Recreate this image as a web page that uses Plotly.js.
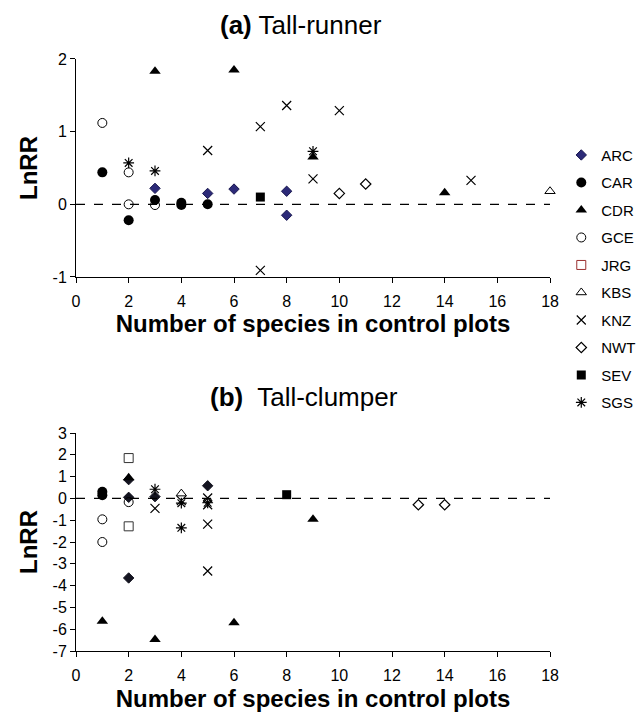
<!DOCTYPE html>
<html>
<head>
<meta charset="utf-8">
<script src="https://cdn.plot.ly/plotly-3.0.1.min.js"></script>
<style>html,body{margin:0;padding:0;background:#fff;}#chart{width:640px;height:715px;}</style>
</head>
<body>
<div id="chart"></div>
<script>
// ---- data ----
var sites = ["ARC","CAR","CDR","GCE","JRG","KBS","KNZ","NWT","SEV","SGS"];
var xTicks = [0,2,4,6,8,10,12,14,16,18];
var yTicksA = [-1,0,1,2];
var yTickTextA = ["-1","0","1","2"];
var yTicksB = [-7,-6,-5,-4,-3,-2,-1,0,1,2,3];
var yTickTextB = ["-7","-6","-5","-4","-3","-2","-1","0","1","2","3"];

// Panel (a) Tall-runner
var ARC_a_x = [3,5,6,8,8];            var ARC_a_y = [0.22,0.15,0.21,0.18,-0.15];
var CAR_a_x = [1,2,3,4,4,5];          var CAR_a_y = [0.44,-0.22,0.06,0.02,-0.01,0];
var CDR_a_x = [3,6,9,14];             var CDR_a_y = [1.83,1.85,0.65,0.16];
var GCE_a_x = [1,2,2,3];              var GCE_a_y = [1.12,0.44,0,-0.01];
var JRG_a_x = [];                     var JRG_a_y = [];
var KBS_a_x = [18];                   var KBS_a_y = [0.18];
var KNZ_a_x = [5,7,7,8,9,10,15];      var KNZ_a_y = [0.74,1.07,-0.91,1.36,0.35,1.29,0.33];
var NWT_a_x = [10,11];                var NWT_a_y = [0.15,0.28];
var SEV_a_x = [7];                    var SEV_a_y = [0.10];
var SGS_a_x = [2,3,9];                var SGS_a_y = [0.57,0.46,0.73];

// Panel (b) Tall-clumper
var ARC_b_x = [2,2,2,3,5];            var ARC_b_y = [0.86,0.05,-3.65,0.08,0.58];
var CAR_b_x = [1,1];                  var CAR_b_y = [0.3,0.15];
var CDR_b_x = [1,2,3,6,9];            var CDR_b_y = [-5.63,0.95,-6.47,-5.7,-0.96];
var GCE_b_x = [1,1,2];                var GCE_b_y = [-0.96,-2.0,-0.17];
var JRG_b_x = [2,2];                  var JRG_b_y = [1.85,-1.28];
var KBS_b_x = [4];                    var KBS_b_y = [0.22];
var KNZ_b_x = [3,4,5,5,5,5];          var KNZ_b_y = [-0.46,-0.1,0.02,-0.29,-1.18,-3.33];
var NWT_b_x = [13,14];                var NWT_b_y = [-0.29,-0.29];
var SEV_b_x = [8];                    var SEV_b_y = [0.17];
var SGS_b_x = [3,4,4,5];              var SGS_b_y = [0.42,-0.22,-1.35,-0.2];

// ---- styles ----
var styles = {
  ARC: {symbol:"diamond", size:8, color:"#2c2a78", line:{color:"#1a1850",width:1}},
  CAR: {symbol:"circle", size:10, color:"#000", line:{color:"#000",width:0}},
  CDR: {symbol:"triangle-up", size:10, color:"#000", line:{color:"#000",width:0}},
  GCE: {symbol:"circle-open", size:9, color:"#000", line:{color:"#000",width:1}},
  JRG: {symbol:"square-open", size:9, color:"#333", line:{color:"#333",width:1}},
  KBS: {symbol:"triangle-up-open", size:9, color:"#000", line:{color:"#000",width:1}},
  KNZ: {symbol:"x-thin-open", size:9, color:"#000", line:{color:"#000",width:1.2}},
  NWT: {symbol:"diamond-open", size:8, color:"#000", line:{color:"#000",width:1.2}},
  SEV: {symbol:"square", size:9, color:"#000", line:{color:"#000",width:0}},
  SGS: {symbol:"asterisk-open", size:9, color:"#000", line:{color:"#000",width:1.2}}
};
var legendColors = {JRG:"#9b3030"};

var dataA = {ARC:[ARC_a_x,ARC_a_y],CAR:[CAR_a_x,CAR_a_y],CDR:[CDR_a_x,CDR_a_y],GCE:[GCE_a_x,GCE_a_y],JRG:[JRG_a_x,JRG_a_y],KBS:[KBS_a_x,KBS_a_y],KNZ:[KNZ_a_x,KNZ_a_y],NWT:[NWT_a_x,NWT_a_y],SEV:[SEV_a_x,SEV_a_y],SGS:[SGS_a_x,SGS_a_y]};
var dataB = {ARC:[ARC_b_x,ARC_b_y],CAR:[CAR_b_x,CAR_b_y],CDR:[CDR_b_x,CDR_b_y],GCE:[GCE_b_x,GCE_b_y],JRG:[JRG_b_x,JRG_b_y],KBS:[KBS_b_x,KBS_b_y],KNZ:[KNZ_b_x,KNZ_b_y],NWT:[NWT_b_x,NWT_b_y],SEV:[SEV_b_x,SEV_b_y],SGS:[SGS_b_x,SGS_b_y]};

function mk(s, override){
  var st = styles[s];
  var c = override || st.color;
  return {symbol:st.symbol, size:st.size, color:c, line:{color: override || st.line.color, width:st.line.width}};
}

var traces = [];
sites.forEach(function(s){
  traces.push({type:"scatter", mode:"markers", x:[null], y:[null], name:s, legendgroup:s,
    marker: mk(s, legendColors[s]), xaxis:"x", yaxis:"y", showlegend:true, hoverinfo:"skip"});
  traces.push({type:"scatter", mode:"markers", x:dataA[s][0], y:dataA[s][1], name:s, legendgroup:s,
    marker: mk(s), xaxis:"x", yaxis:"y", showlegend:false, cliponaxis:false});
  var mb = mk(s, s==="ARC" ? "#141420" : null);
  traces.push({type:"scatter", mode:"markers", x:dataB[s][0], y:dataB[s][1], name:s, legendgroup:s,
    marker: mb, xaxis:"x2", yaxis:"y2", showlegend:false, cliponaxis:false});
});

var FONT = "Liberation Sans, Arial, Helvetica, sans-serif";
function xax(anchor){
  return {domain:[0.11875,0.8594], range:[0,18], anchor:anchor, tickmode:"array", tickvals:xTicks,
    ticks:"outside", ticklen:5, tickcolor:"#000", showline:true, linecolor:"#000", linewidth:1,
    ticklabelstandoff:5,
    showgrid:false, zeroline:false, tickfont:{size:16,color:"#000"},
    title:{text:"<b>Number of species in control plots</b>", font:{size:24,color:"#000"}, standoff:6}};
}
function yax(anchor, dom, rng, tv, tt){
  return {domain:dom, range:rng, anchor:anchor, tickmode:"array", tickvals:tv, ticktext:tt,
    ticks:"outside", ticklen:5, tickcolor:"#000", showline:true, linecolor:"#000", linewidth:1,
    showgrid:false, zeroline:false, tickfont:{size:16,color:"#000"},
    title:{text:"<b>LnRR</b>", font:{size:24,color:"#000"}, standoff:8}};
}

var layout = {
  width:640, height:715, margin:{l:0,r:0,t:0,b:0, autoexpand:false}, paper_bgcolor:"#fff", plot_bgcolor:"#fff",
  font:{family:FONT, color:"#000"},
  xaxis: xax("y"),
  yaxis: yax("x", [0.6126,0.9175], [-1,2], yTicksA, yTickTextA),
  xaxis2: xax("y2"),
  yaxis2: yax("x2", [0.0895,0.3944], [-7,3], yTicksB, yTickTextB),
  showlegend:true,
  legend:{x:0.877, y:0.806, xanchor:"left", yanchor:"top", font:{size:15,color:"#000"},
    tracegroupgap:5, itemwidth:30, bgcolor:"rgba(0,0,0,0)", traceorder:"grouped"},
  shapes:[
    {type:"line", xref:"x", yref:"y", x0:0, x1:18, y0:0, y1:0, line:{color:"#000", width:1.3, dash:"dash"}},
    {type:"line", xref:"x2", yref:"y2", x0:0, x1:18, y0:0, y1:0, line:{color:"#000", width:1.3, dash:"dash"}}
  ],
  annotations:[
    {xref:"paper", yref:"paper", x:0.47, y:1-25/715, xanchor:"center", yanchor:"middle", showarrow:false,
     text:"<b>(a)</b> Tall-runner", font:{size:26,color:"#000"}},
    {xref:"paper", yref:"paper", x:0.475, y:1-397/715, xanchor:"center", yanchor:"middle", showarrow:false,
     text:"<b>(b)</b>  Tall-clumper", font:{size:26,color:"#000"}}
  ]
};

Plotly.newPlot("chart", traces, layout, {displayModeBar:false, staticPlot:true});
</script>
</body>
</html>
